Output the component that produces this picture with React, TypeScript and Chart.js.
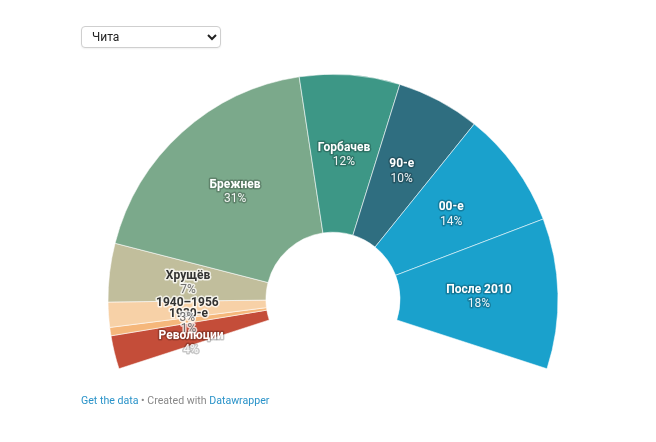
import React, { useEffect, useRef } from "react";
import { Chart, registerables } from "chart.js";

Chart.register(...registerables);

const categories = ["Революции", "1930-е", "1940–1956", "Хрущёв", "Брежнев", "Горбачев", "90-е", "00-е", "После 2010"];
const shares = [4, 1, 3, 7, 31, 12, 10, 14, 18];
const sliceColors = ["#c44d39", "#f5b77b", "#f7d1a7", "#c1be9c", "#7ba98b", "#3d9786", "#2f6e80", "#1aa1cc", "#1aa1cc"];
const cities = ["Чита"];

function isLight(hex: string) {
  const n = parseInt(hex.slice(1), 16);
  const r = (n >> 16) & 255, g = (n >> 8) & 255, b = n & 255;
  const l = 0.2126 * r + 0.7152 * g + 0.0722 * b;
  return l > 175;
}

const labelPlugin = {
  id: "sliceLabels",
  afterDatasetsDraw(chart: any) {
    const ctx = chart.ctx;
    const meta = chart.getDatasetMeta(0);
    ctx.save();
    ctx.textAlign = "center";
    ctx.textBaseline = "middle";
    ctx.lineJoin = "round";
    meta.data.forEach((arc: any, i: number) => {
      const p = arc.getProps(["x", "y", "startAngle", "endAngle", "innerRadius", "outerRadius"], true);
      const a = (p.startAngle + p.endAngle) / 2;
      const r = (p.innerRadius + p.outerRadius) / 2;
      let x = p.x + Math.cos(a) * r;
      let y = p.y + Math.sin(a) * r + 1;
      if (i === 0) y += 8;
      const light = isLight(sliceColors[i]);
      const name = categories[i];
      const pct = shares[i] + "%";
      const halo = light ? "rgba(255,255,255,0.75)" : "rgba(0,0,0,0.22)";
      const c1 = light ? "#333333" : "#ffffff";
      const c2 = light ? "#707070" : "rgba(255,255,255,0.92)";
      ctx.lineWidth = 3;
      ctx.strokeStyle = halo;
      ctx.font = "bold 12px Roboto";
      ctx.strokeText(name, x, y - 7);
      ctx.fillStyle = c1;
      ctx.fillText(name, x, y - 7);
      ctx.font = "12px Roboto";
      ctx.strokeText(pct, x, y + 7.5);
      ctx.fillStyle = c2;
      ctx.fillText(pct, x, y + 7.5);
    });
    ctx.restore();
  },
};

export default function App() {
  const ref = useRef<HTMLCanvasElement | null>(null);
  useEffect(() => {
    if (!ref.current) return;
    Chart.defaults.font.family = "Roboto";
    const chart = new Chart(ref.current, {
      type: "doughnut",
      data: {
        labels: categories,
        datasets: [
          {
            data: shares,
            backgroundColor: sliceColors,
            borderColor: "rgba(255,255,255,0.55)",
            borderWidth: 1,
          },
        ],
      },
      options: {
        responsive: false,
        animation: false,
        rotation: -108,
        circumference: 216,
        radius: 225,
        cutout: "29.8%",
        layout: { padding: 0 },
        plugins: { legend: { display: false }, tooltip: { enabled: false } },
        events: [],
      } as any,
      plugins: [labelPlugin],
    });
    return () => chart.destroy();
  }, []);

  return (
    <div style={{ position: "relative", width: 640, height: 426, fontFamily: "Roboto, sans-serif" }}>
      <canvas
        ref={ref}
        width={640}
        height={347}
        style={{ position: "absolute", left: 5, top: 40, width: 640, height: 347 }}
      />
      <select
        defaultValue={cities[0]}
        style={{
          position: "absolute",
          left: 73,
          top: 18,
          width: 140,
          height: 22,
          fontFamily: "Roboto, sans-serif",
          fontSize: 12,
          color: "#222",
          background: "#fff",
          border: "1px solid #cfcfcf",
          borderRadius: 4,
          paddingLeft: 6,
          boxShadow: "0 1px 2px rgba(0,0,0,0.06)",
          zIndex: 2,
        }}
      >
        {cities.map((c) => (
          <option key={c} value={c}>
            {c}
          </option>
        ))}
      </select>
      <div
        style={{
          position: "absolute",
          left: 73,
          top: 386,
          fontSize: 10.6,
          lineHeight: "14px",
          color: "#888",
          whiteSpace: "nowrap",
        }}
      >
        <span style={{ color: "#2a93c9" }}>Get the data</span>
        <span> • Created with </span>
        <span style={{ color: "#2a93c9" }}>Datawrapper</span>
      </div>
    </div>
  );
}
